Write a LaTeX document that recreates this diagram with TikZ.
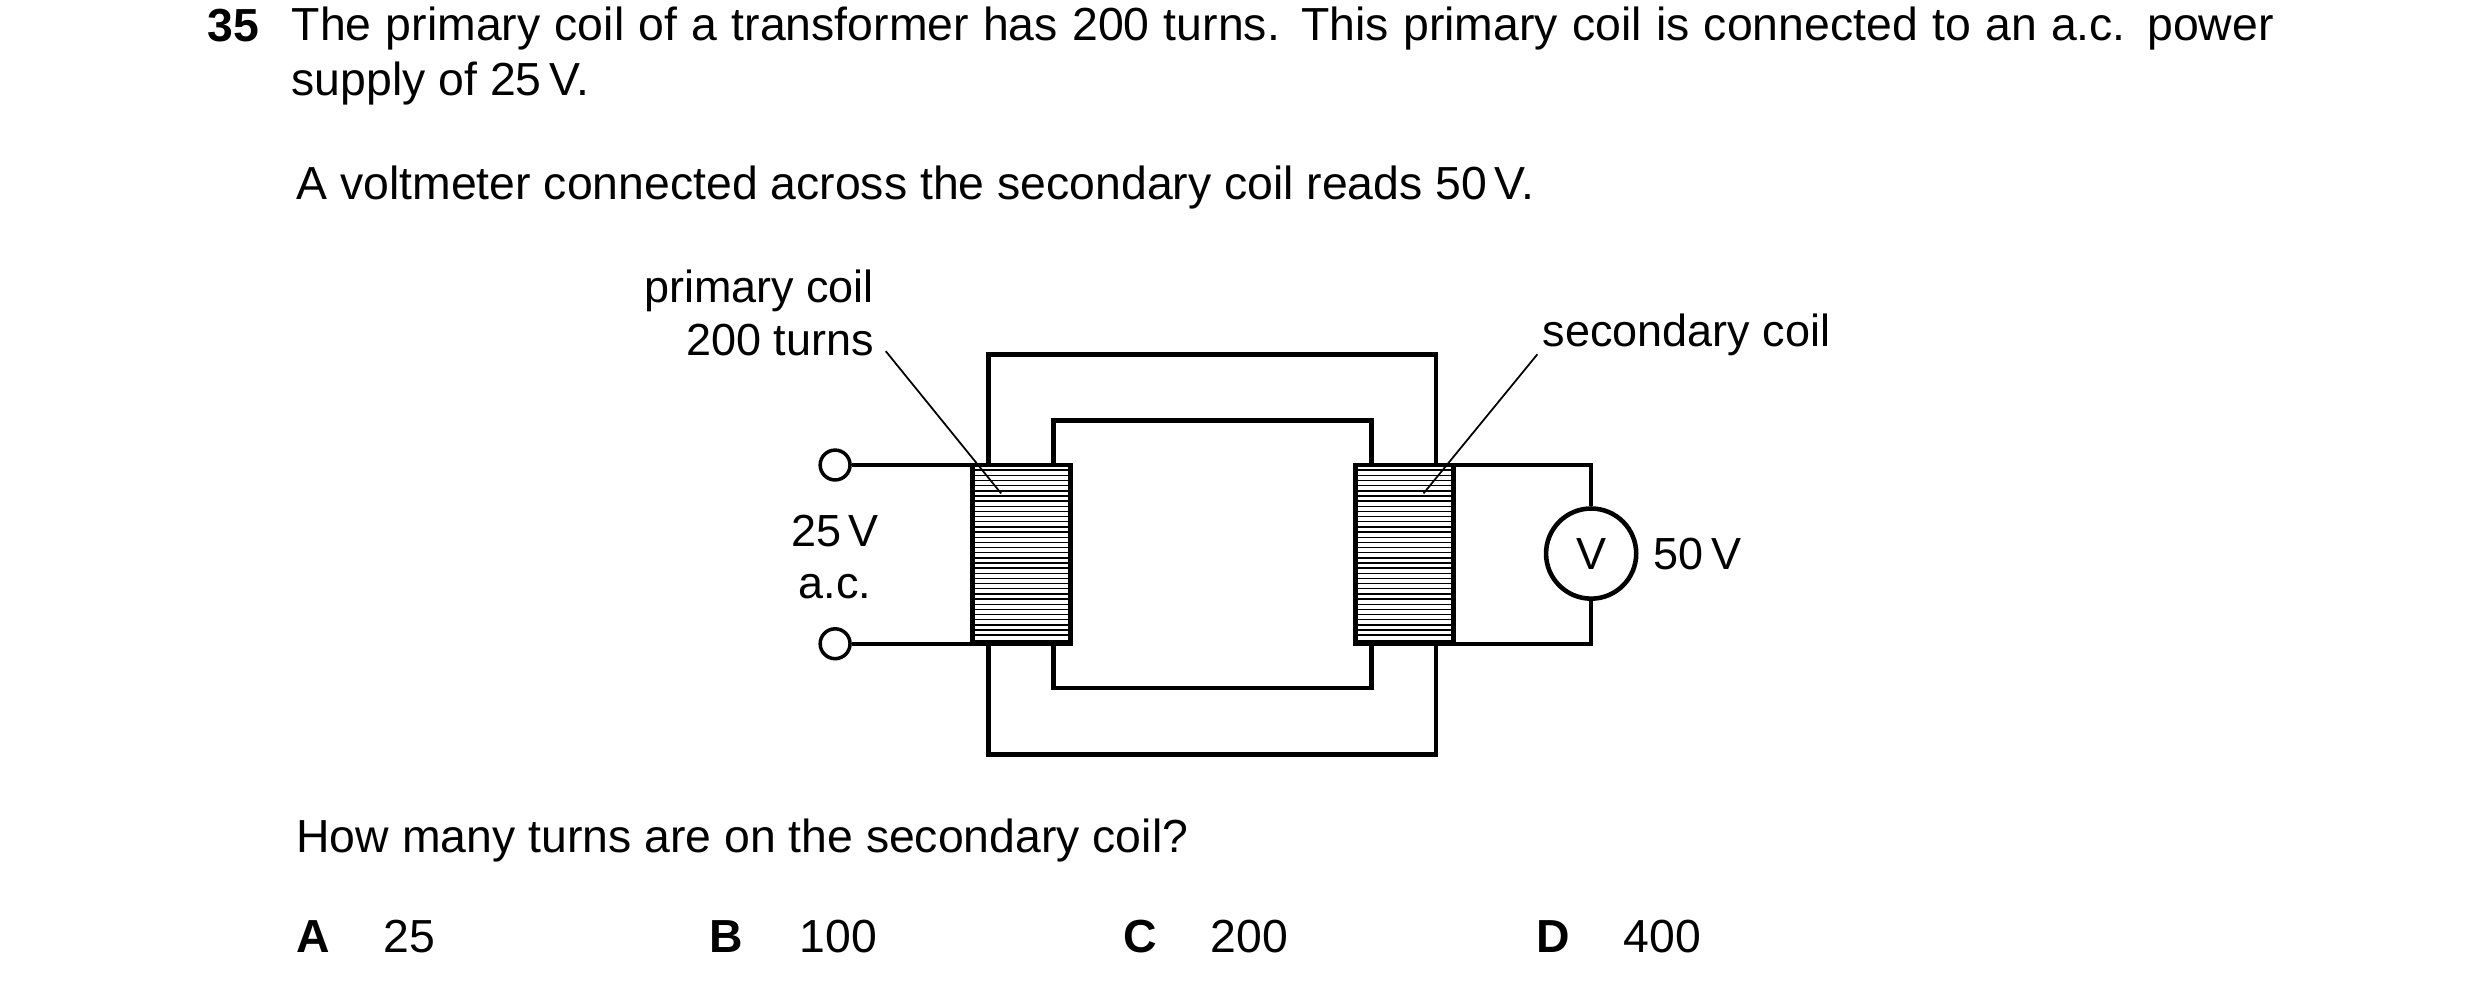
\documentclass[tikz,border=0pt]{standalone}
\usepackage{fontspec}
\setmainfont{Liberation Sans}
\begin{document}
\begin{tikzpicture}[x=0.015816cm,y=-0.015816cm,
  txt/.style={inner sep=0pt,anchor=base west,font=\fontsize{13.2pt}{15.6pt}\selectfont},
  lab/.style={inner sep=0pt,font=\fontsize{12.8pt}{15pt}\selectfont},
  core/.style={line width=1.3pt},
  wire/.style={line width=1.1pt},
  lead/.style={line width=0.5pt},
  coil/.style={line width=1.3pt,fill=white}]
\useasboundingbox (0,0) rectangle (1568,627);
% text
\node[txt,font=\fontsize{13.2pt}{15.6pt}\selectfont\bfseries] (num) at (131,26) {35};
\node[txt,anchor=north west,text width=19.83cm,align=justify] (q1) at (184,4) {The primary coil of a transformer has 200 turns. This primary coil is connected to an a.c. power supply of 25\,V.};
\node[txt] (q2) at (187,126) {A voltmeter connected across the secondary coil reads 50\,V.};
\node[txt] (q3) at (187,539) {How many turns are on the secondary coil?};
\node[txt,font=\fontsize{13.2pt}{15.6pt}\selectfont\bfseries] (oa) at (187,602) {A};
\node[txt] (va) at (242,602) {25};
\node[txt,font=\fontsize{13.2pt}{15.6pt}\selectfont\bfseries] (ob) at (448,602) {B};
\node[txt] (vb) at (505,602) {100};
\node[txt,font=\fontsize{13.2pt}{15.6pt}\selectfont\bfseries] (oc) at (710,602) {C};
\node[txt] (vc) at (765,602) {200};
\node[txt,font=\fontsize{13.2pt}{15.6pt}\selectfont\bfseries] (od) at (971,602) {D};
\node[txt] (vd) at (1026,602) {400};
% core
\draw[core] (625,224) rectangle (908,477);
\draw[core] (666,266) rectangle (867,435);
% coils
\draw[coil] (615,294) rectangle (677,407);
\draw[coil] (857,294) rectangle (919,407);
\foreach \k in {1,...,34}{
  \draw[line width=0.4pt] (616,294+\k*3.26) -- (676,294+\k*3.26);
  \draw[line width=0.4pt] (858,294+\k*3.26) -- (918,294+\k*3.26);
}
\node[coordinate] (pc) at (633,312) {};
\node[coordinate] (sc) at (900,312) {};
% primary circuit
\node[circle,draw,line width=1pt,inner sep=0pt,minimum size=8.5] (t1) at (528,294) {};
\node[circle,draw,line width=1pt,inner sep=0pt,minimum size=8.5] (t2) at (528,407) {};
\coordinate (p1) at (615,294);
\coordinate (p2) at (615,407);
\draw[wire] (t1) -- (p1);
\draw[wire] (t2) -- (p2);
% secondary circuit
\node[circle,draw,line width=1.3pt,minimum size=57*0.015816cm,inner sep=0pt,lab] (vm) at (1006,350) {V};
\coordinate (s1) at (919,294);
\coordinate (s2) at (919,407);
\draw[wire] (s1) -| (vm.north);
\draw[wire] (s2) -| (vm.south);
% labels
\node[lab,anchor=base east] (l1) at (553,191) {primary coil};
\node[lab,anchor=base east] (l2) at (553,225) {200 turns};
\node[lab,anchor=base west] (l3) at (975,219) {secondary coil};
\node[lab] (l4) at (528,336) {25\,V};
\node[lab] (l5) at (528,371) {a.c.};
\node[lab,anchor=west] (l6) at (1045,350) {50\,V};
\coordinate (a1) at (560,222);
\coordinate (a2) at (972,224);
\draw[lead] (a1) -- (pc);
\draw[lead] (a2) -- (sc);
\end{tikzpicture}
\end{document}
